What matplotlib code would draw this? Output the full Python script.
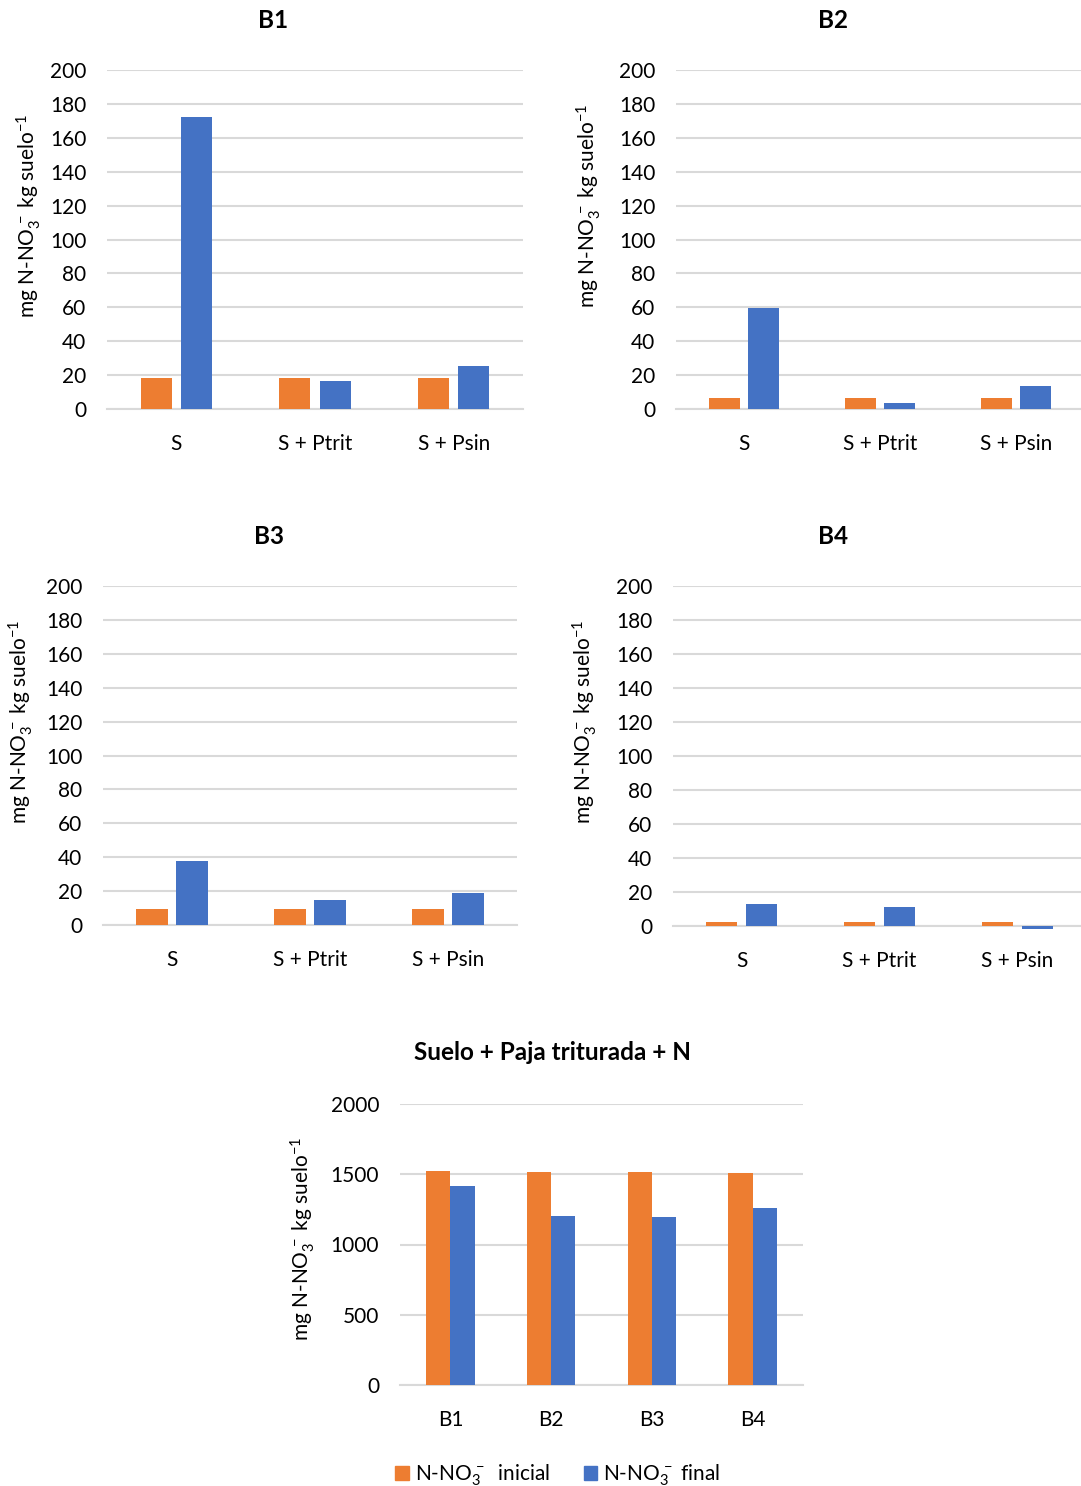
import matplotlib
matplotlib.use("Agg")
import matplotlib.pyplot as plt
import numpy as np
from matplotlib.patches import Patch

plt.rcParams['font.family'] = ['Lato', 'DejaVu Sans']
plt.rcParams['mathtext.fontset'] = 'custom'
plt.rcParams['mathtext.rm'] = 'Lato'
plt.rcParams['mathtext.it'] = 'Lato:italic'
plt.rcParams['mathtext.bf'] = 'Lato:bold'

# ---- data ----
treatments = ["S", "S + Ptrit", "S + Psin"]
b1_inicial = [18.2, 18.2, 18.2]
b1_final = [172.2, 16.7, 25.5]
b2_inicial = [6.5, 6.5, 6.5]
b2_final = [59.5, 3.5, 13.7]
b3_inicial = [9.4, 9.4, 9.4]
b3_final = [37.8, 14.7, 18.9]
b4_inicial = [2.4, 2.4, 2.4]
b4_final = [12.8, 11.2, -1.5]

blocks = ["B1", "B2", "B3", "B4"]
paja_inicial = [1526, 1517, 1519, 1512]
paja_final = [1417, 1204, 1197, 1261]

small_ticks = [0, 20, 40, 60, 80, 100, 120, 140, 160, 180, 200]
big_ticks = [0, 500, 1000, 1500, 2000]

ORANGE = "#ED7D31"
BLUE = "#4472C4"
GRID = "#D9D9D9"
W, H = 1081, 1486

ylabel = r'mg N-NO$\mathregular{_3^{\,-}}$ kg suelo$\mathregular{^{-1}}$'

fig = plt.figure(figsize=(W / 100, H / 100), dpi=100)


def add_axes(left, right, top, bottom):
    return fig.add_axes([left / W, 1 - bottom / H, (right - left) / W, (bottom - top) / H])


def style(ax, ticks, lab_xy):
    for s in ["top", "right", "left"]:
        ax.spines[s].set_visible(False)
    ax.spines["bottom"].set_color(GRID)
    ax.spines["bottom"].set_linewidth(1.5)
    ax.set_yticks(ticks)
    ax.set_ylim(ticks[0], ticks[-1])
    ax.grid(axis="y", color=GRID, linewidth=1.5)
    ax.set_axisbelow(True)
    ax.tick_params(axis="y", length=0, pad=15, labelsize=15, labelcolor="#000000")
    ax.tick_params(axis="x", length=0, pad=18, labelsize=15)
    ax.set_ylabel(ylabel, fontsize=15)
    ax.yaxis.set_label_coords(*lab_xy)


def small_panel(rect, title, title_xy, ini, fin, lab_xy):
    ax = add_axes(*rect)
    x = np.arange(len(treatments))
    ax.bar(x - 0.145, ini, width=0.225, color=ORANGE, clip_on=False, zorder=3)
    ax.bar(x + 0.145, fin, width=0.225, color=BLUE, clip_on=False, zorder=3)
    ax.set_xlim(-0.5, len(treatments) - 0.5)
    ax.set_xticks(x)
    ax.set_xticklabels(treatments)
    style(ax, small_ticks, lab_xy)
    fig.text(title_xy[0] / W, 1 - title_xy[1] / H, title, fontsize=17.5,
             fontweight="bold", ha="center", va="center")
    return ax


small_panel((107, 523, 70, 409), "B1", (273, 20), b1_inicial, b1_final, (-0.155, 0.57))
small_panel((676, 1084, 70, 409), "B2", (833, 20), b2_inicial, b2_final, (-0.18, 0.6))
small_panel((103, 517, 586, 925), "B3", (269, 536), b3_inicial, b3_final, (-0.165, 0.6))
small_panel((673, 1086, 586, 926), "B4", (833, 536), b4_inicial, b4_final, (-0.18, 0.6))

ax = add_axes(400, 803, 1104, 1385)
x = np.arange(len(blocks))
ax.bar(x - 0.12, paja_inicial, width=0.24, color=ORANGE, zorder=3)
ax.bar(x + 0.12, paja_final, width=0.24, color=BLUE, zorder=3)
ax.set_xlim(-0.5, len(blocks) - 0.5)
ax.set_xticks(x)
ax.set_xticklabels(blocks)
style(ax, big_ticks, (-0.205, 0.52))
fig.text(553 / W, 1 - 1053 / H, "Suelo + Paja triturada + N", fontsize=17.5,
         fontweight="bold", ha="center", va="center")

handles = [Patch(color=ORANGE), Patch(color=BLUE)]
labels = [r'N-NO$\mathregular{_3^{\,-}}$  inicial', r'N-NO$\mathregular{_3^{\,-}}$ final']
fig.legend(handles, labels, loc="center", bbox_to_anchor=(558 / W, 1 - 1475 / H),
           ncol=2, frameon=False, fontsize=15, handlelength=0.65, handleheight=0.65,
           handletextpad=0.3, columnspacing=1.6)

fig.savefig("out.png", dpi=100)
